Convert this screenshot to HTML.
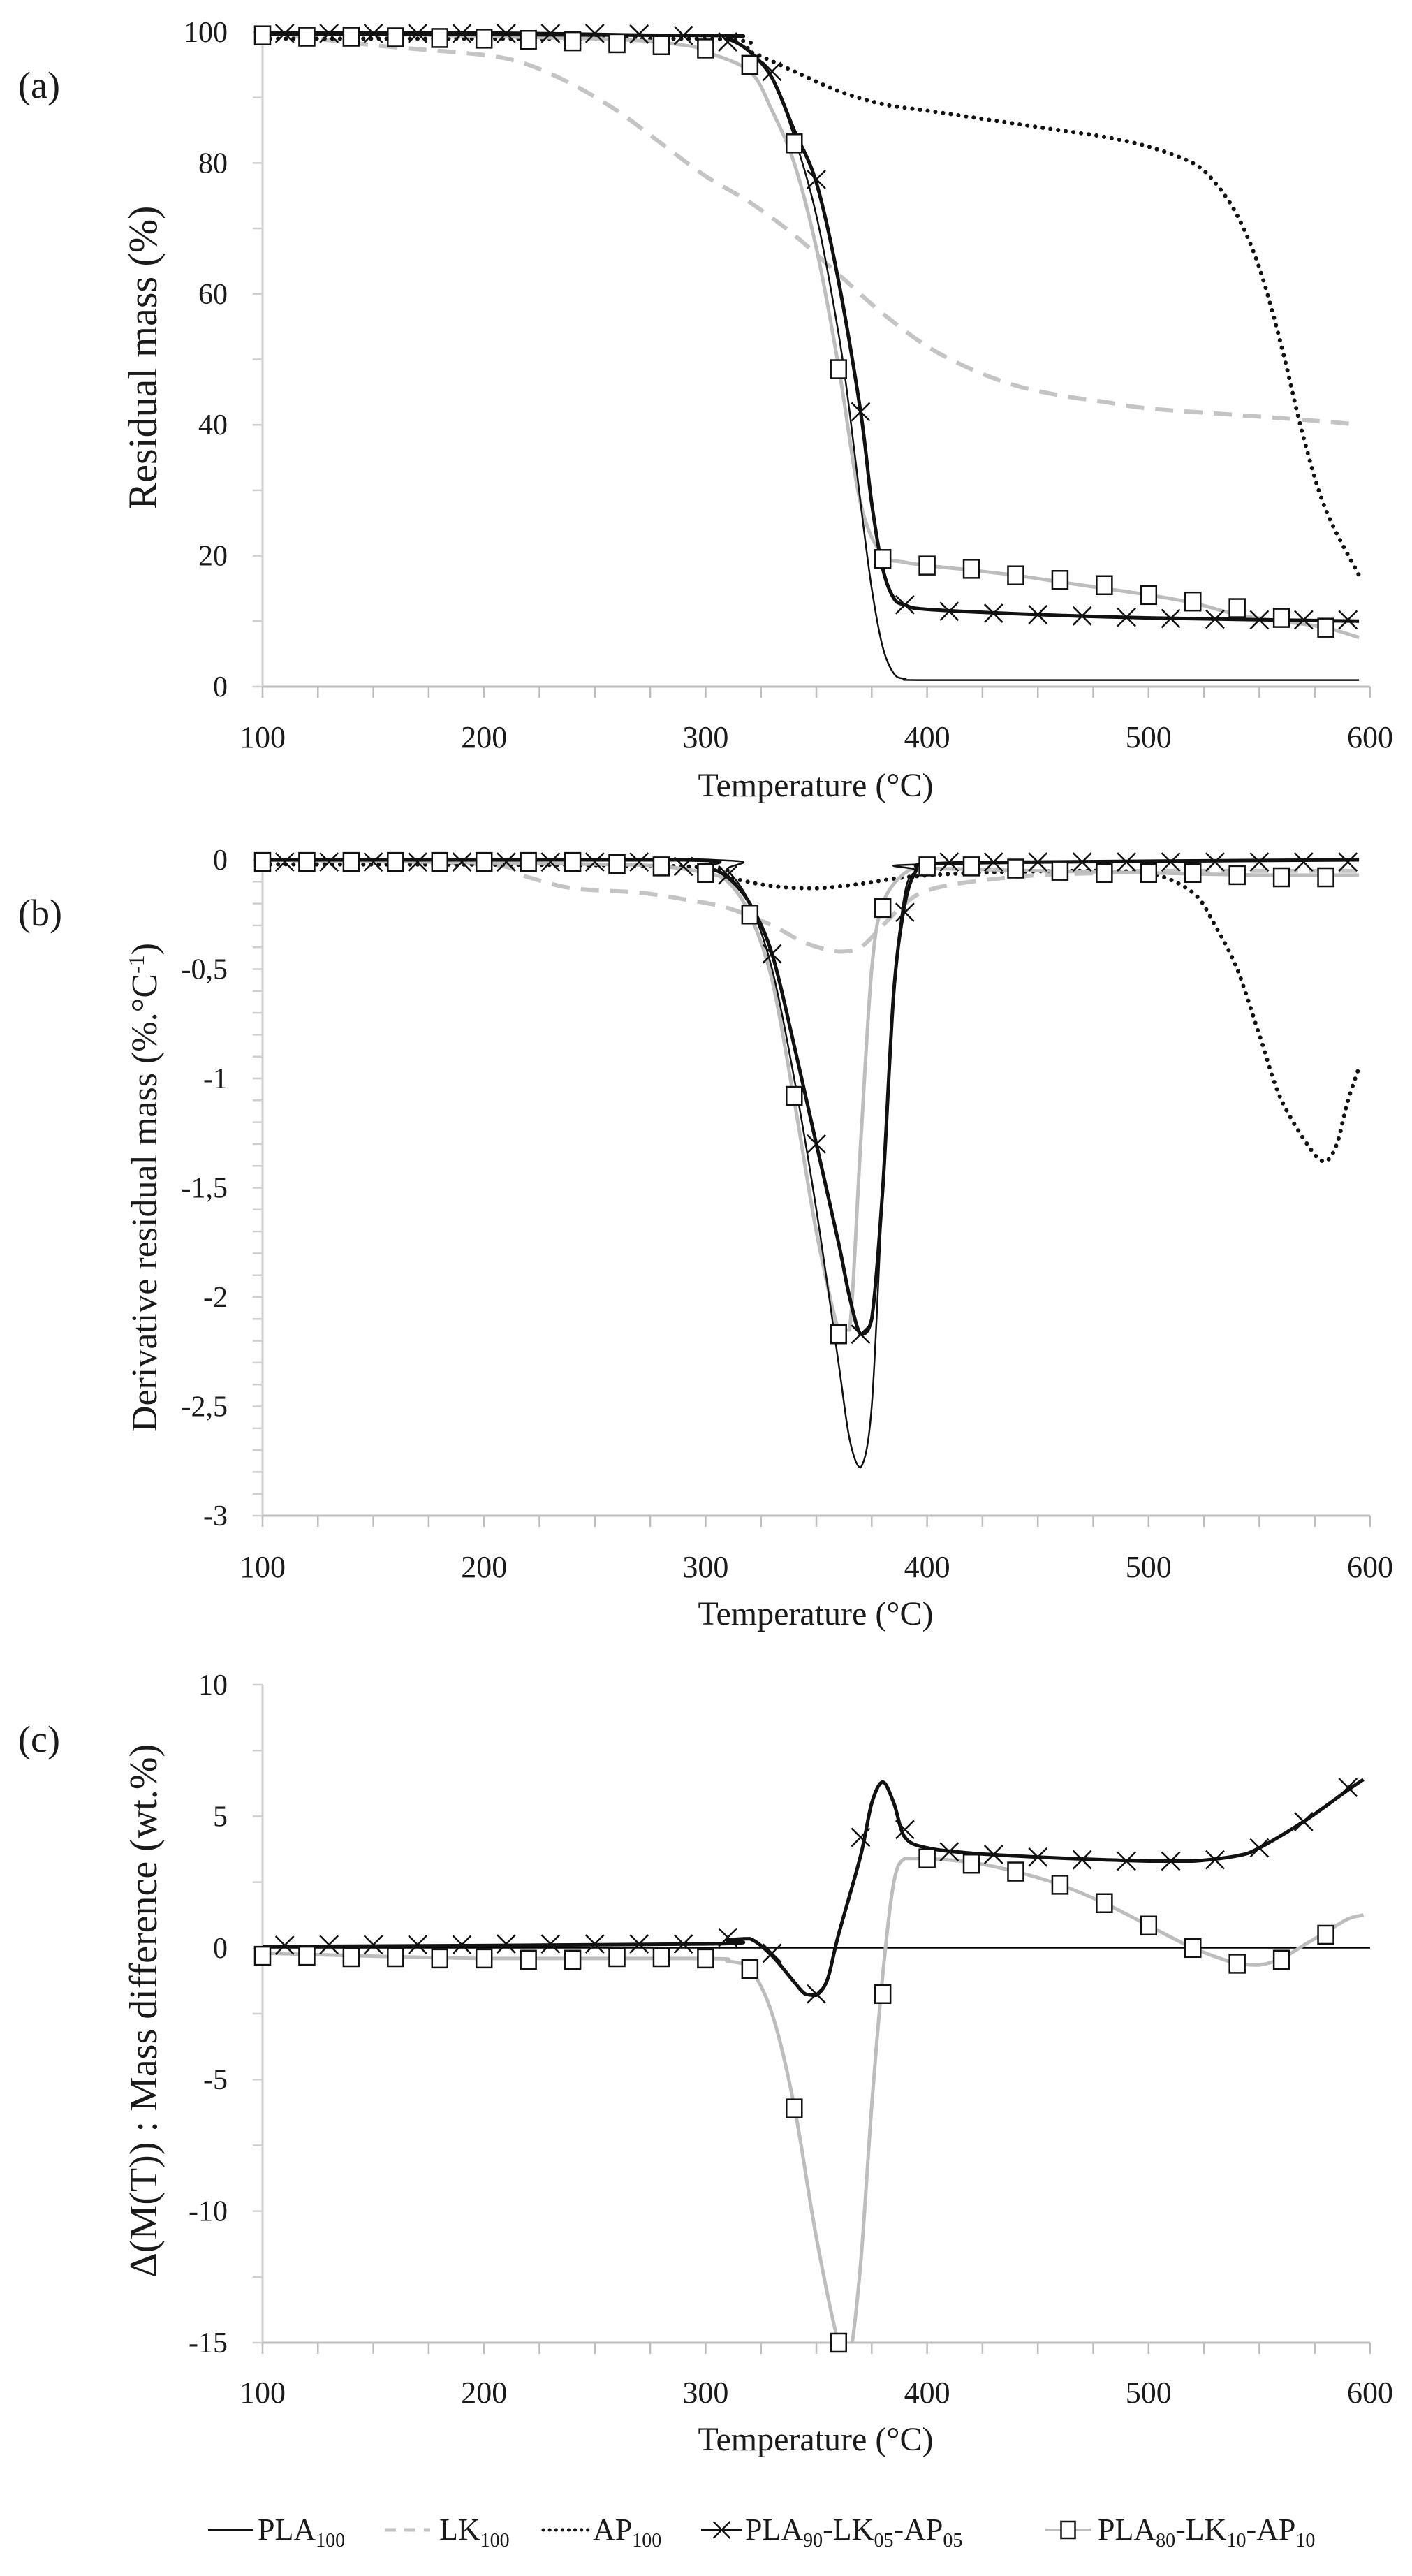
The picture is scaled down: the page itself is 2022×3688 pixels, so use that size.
<!DOCTYPE html>
<html><head><meta charset="utf-8">
<style>
html,body{margin:0;padding:0;background:#fff;}
svg{display:block;}
text{font-family:"Liberation Serif",serif;fill:#1a1a1a;}
</style></head>
<body>
<svg id="fig" width="2022" height="3688" viewBox="0 0 2022 3688" xmlns="http://www.w3.org/2000/svg"></svg>
<script>
// ---------- Panel (a): residual mass ----------
const aT_PLA100 = [100,200,300,310,320,330,340,350,360,365,370,375,380,385,390,400,500,595];
const aV_PLA100 = [100,100,99.5,99,97,93,84,72,54,42,28,15,6,2,1.2,1,1,1];
const aT_LK100 = [100,150,200,220,240,260,280,300,320,340,360,380,400,420,440,460,480,500,540,580,595];
const aV_LK100 = [100,98,96.5,95,92,88,83,78,74,69,63,57,52,48.5,46,44.5,43.5,42.5,41.5,40.5,40];
const aT_AP100 = [100,300,320,340,360,380,400,420,440,460,480,500,520,530,540,550,560,570,580,595];
const aV_AP100 = [99,99,97,94,91,89,88,87,86,85,84,82.5,80,77,72,64,52,38,27,17];
const aT_PLA90 = [100,300,310,320,330,340,350,360,370,375,380,385,390,400,450,500,595];
const aV_PLA90 = [99.7,99.5,99,97,93,85,77,62,42,28,18,13.5,12.5,11.8,11,10.5,10];
const aT_PLA80 = [100,250,290,300,320,330,340,350,360,370,380,390,400,420,440,460,480,500,520,540,560,580,595];
const aV_PLA80 = [100,99,98,97,94,88,80,67,49,28,20,19,18.5,17.8,17,16,15,14,12.8,11,10,9,7.5];
const aMX_T = [110,130,150,170,190,210,230,250,270,290,310,330,350,370,390,410,430,450,470,490,510,530,550,570,590];
const aMX_V = [99.8,99.8,99.8,99.8,99.8,99.8,99.8,99.8,99.7,99.5,98.5,94,77.5,42,12.5,11.5,11.2,11,10.8,10.6,10.4,10.3,10.2,10.2,10.2];
const aMS_T = [100,120,140,160,180,200,220,240,260,280,300,320,340,360,380,400,420,440,460,480,500,520,540,560,580];
const aMS_V = [99.5,99.3,99.3,99.2,99.1,99,98.8,98.6,98.3,98,97.5,95,83,48.5,19.5,18.5,18,17,16.3,15.5,14,13,12,10.5,9];
const aYTicks = [0,20,40,60,80,100];
const aYLabels = ["0","20","40","60","80","100"];

// ---------- Panel (b): derivative ----------
const bT_PLA100 = [100,300,310,320,330,340,350,360,365,370,375,380,385,390,395,400,595];
const bV_PLA100 = [0,0,-0.05,-0.2,-0.5,-1.0,-1.6,-2.3,-2.65,-2.78,-2.5,-1.5,-0.6,-0.15,-0.05,-0.02,0];
const bT_LK100 = [100,200,220,240,270,290,310,330,345,360,370,380,390,400,420,450,480,500,595];
const bV_LK100 = [0,-0.02,-0.08,-0.13,-0.15,-0.18,-0.22,-0.3,-0.38,-0.42,-0.4,-0.3,-0.2,-0.14,-0.1,-0.07,-0.06,-0.05,-0.05];
const bT_AP100 = [100,290,310,330,350,370,390,420,470,500,520,530,540,550,560,575,580,585,590,595];
const bV_AP100 = [-0.02,-0.03,-0.08,-0.12,-0.13,-0.11,-0.08,-0.06,-0.05,-0.06,-0.15,-0.3,-0.5,-0.8,-1.1,-1.35,-1.38,-1.3,-1.1,-0.95];
const bT_PLA90 = [100,290,300,310,320,330,340,350,360,365,370,375,380,385,390,395,400,450,595];
const bV_PLA90 = [0,0,-0.03,-0.08,-0.2,-0.43,-0.85,-1.3,-1.75,-2.0,-2.17,-2.1,-1.5,-0.6,-0.2,-0.05,-0.02,-0.01,0];
const bT_PLA80 = [100,250,280,300,310,320,330,340,350,360,365,370,375,380,390,400,450,500,550,595];
const bV_PLA80 = [0,-0.02,-0.03,-0.06,-0.1,-0.25,-0.55,-1.1,-1.7,-2.15,-2.15,-1.3,-0.5,-0.2,-0.06,-0.04,-0.05,-0.06,-0.07,-0.07];
const bMX_T = aMX_T;
const bMX_V = [-0.01,-0.01,-0.01,-0.01,-0.01,-0.01,-0.01,-0.01,-0.01,-0.03,-0.07,-0.43,-1.3,-2.17,-0.24,-0.01,-0.01,-0.01,-0.01,-0.01,-0.01,-0.01,-0.01,-0.01,-0.01];
const bMS_T = aMS_T;
const bMS_V = [-0.01,-0.01,-0.01,-0.01,-0.01,-0.01,-0.01,-0.01,-0.02,-0.03,-0.06,-0.25,-1.08,-2.17,-0.22,-0.03,-0.03,-0.04,-0.05,-0.06,-0.06,-0.06,-0.07,-0.08,-0.08];
const bYTicks = [0,-0.5,-1,-1.5,-2,-2.5,-3];
const bYLabels = ["0","-0,5","-1","-1,5","-2","-2,5","-3"];

// ---------- Panel (c): mass difference ----------
const cT_PLA90 = [100,300,310,320,330,340,345,350,355,360,370,375,380,385,390,400,420,450,480,500,520,540,550,570,590,597];
const cV_PLA90 = [0.05,0.15,0.3,0.35,-0.3,-1.3,-1.75,-1.8,-1.2,0.5,3.5,5.5,6.3,5.5,4.2,3.8,3.6,3.45,3.35,3.3,3.3,3.5,3.8,4.8,6.0,6.4];
const cT_PLA80 = [100,200,300,310,320,330,340,350,360,365,370,375,380,385,390,400,420,440,460,480,500,520,540,550,560,570,580,590,597];
const cV_PLA80 = [-0.2,-0.4,-0.4,-0.5,-0.8,-2.5,-6,-11,-15,-15.5,-12,-6,-1,2.5,3.4,3.4,3.25,2.9,2.4,1.7,0.85,0,-0.6,-0.65,-0.4,0.1,0.6,1.1,1.25];
const cMX_T = aMX_T;
const cMX_V = [0.1,0.12,0.12,0.12,0.12,0.15,0.15,0.15,0.15,0.15,0.4,-0.2,-1.75,4.2,4.5,3.65,3.55,3.45,3.35,3.3,3.3,3.35,3.8,4.8,6.1];
const cMS_T = aMS_T;
const cMS_V = [-0.3,-0.3,-0.35,-0.35,-0.4,-0.4,-0.45,-0.45,-0.35,-0.35,-0.4,-0.8,-6.1,-15,-1.75,3.4,3.2,2.9,2.4,1.7,0.85,0,-0.6,-0.45,0.5];
const cYTicks = [10,5,0,-5,-10,-15];
const cYLabels = ["10","5","0","-5","-10","-15"];

const xTicks = [100,200,300,400,500,600];
const xLabels = ["100","200","300","400","500","600"];

const NS = "http://www.w3.org/2000/svg";
const svg = document.getElementById('fig');
function mk(tag, attrs, parent){
  const e = document.createElementNS(NS, tag);
  for (const k in attrs) e.setAttribute(k, attrs[k]);
  (parent||svg).appendChild(e);
  return e;
}
function clampY(y, a, b){ const lo=Math.min(a,b), hi=Math.max(a,b); return Math.max(lo, Math.min(hi, y)); }
function smoothPath(pts){
  let d = "M"+pts[0][0].toFixed(1)+","+pts[0][1].toFixed(1);
  for (let i=0;i<pts.length-1;i++){
    const p0=pts[Math.max(0,i-1)], p1=pts[i], p2=pts[i+1], p3=pts[Math.min(pts.length-1,i+2)];
    const t=0.16;
    const c1x=p1[0]+(p2[0]-p0[0])*t, c1y=clampY(p1[1]+(p2[1]-p0[1])*t, p1[1], p2[1]);
    const c2x=p2[0]-(p3[0]-p1[0])*t, c2y=clampY(p2[1]-(p3[1]-p1[1])*t, p1[1], p2[1]);
    d+=" C"+c1x.toFixed(1)+","+c1y.toFixed(1)+" "+c2x.toFixed(1)+","+c2y.toFixed(1)+" "+p2[0].toFixed(1)+","+p2[1].toFixed(1);
  }
  return d;
}

const X0=376, X1=1962;
function xScale(t){ return X0+(t-100)/500*(X1-X0); }

function drawPanel(p){
  const g = mk('g',{});
  
  
  const yScale = v => p.yTop + (p.vTop - v)/(p.vTop - p.vBot)*(p.yBot - p.yTop);
  const clipId = p.name+'-clip';
  const cp = mk('clipPath',{id:clipId},g);
  mk('rect',{x:X0-30,y:p.yTop-30,width:X1-X0+60,height:p.yBot-p.yTop+30},cp);
  const ya = mk('line',{x1:X0,y1:p.yTop,x2:X0,y2:p.yBot,stroke:'#cfcfcf','stroke-width':3},g);
  
  
  for (let v=p.vBot; v<=p.vTop+1e-9; v+=p.minor){
    mk('line',{x1:X0-14,y1:yScale(v),x2:X0,y2:yScale(v),stroke:'#cfcfcf','stroke-width':2.5},g);
  }
  p.yTicks.forEach((v,i)=>{
    const t = mk('text',{x:326,y:yScale(v)+14,'text-anchor':'end','font-size':42},g);
    t.textContent = p.yLabels[i];
    
    
  });
  const xa = mk('line',{x1:X0,y1:p.yBot,x2:X1,y2:p.yBot,stroke:'#bdbdbd','stroke-width':3},g);
  
  
  for (let t=100;t<=600;t+=25){
    mk('line',{x1:xScale(t),y1:p.yBot,x2:xScale(t),y2:p.yBot+16,stroke:'#bdbdbd','stroke-width':2.5},g);
  }
  xTicks.forEach((t,i)=>{
    const e = mk('text',{x:xScale(t),y:p.xLabelY,'text-anchor':'middle','font-size':44},g);
    e.textContent = xLabels[i];
    
    
  });
  const xt = mk('text',{x:1168,y:p.xTitleY,'text-anchor':'middle','font-size':48},g);
  xt.textContent = 'Temperature (°C)';
  
  
  const yt = mk('text',{x:0,y:0,'text-anchor':'middle','font-size':p.yTitleSize,transform:'translate(224,'+p.yTitleCY+') rotate(-90)'},g);
  yt.innerHTML = p.yTitle;
  
  
  const pl = mk('text',{x:26,y:p.panelY,'font-size':54},g);
  pl.textContent = p.panel;
  
  
  if (p.zeroLine){
    const z = mk('line',{x1:X0,y1:yScale(0),x2:X1,y2:yScale(0),stroke:'#000','stroke-width':2},g);
    
    
  }
  const lg = mk('g',{'clip-path':'url(#'+clipId+')'},g);
  p.series.forEach(s=>{
    const pts = s.t.map((t,i)=>[xScale(t), yScale(s.v[i])]);
    const path = mk('path',{d:smoothPath(pts),fill:'none',stroke:s.color,'stroke-width':s.w,'stroke-dasharray':s.dash||'none','stroke-linecap':s.cap||'butt','stroke-linejoin':'round'},lg);
    
    
  });
  p.mx.t.forEach((t,i)=>{
    const cx=xScale(t), cy=yScale(p.mx.v[i]), r=13;
    const m = mk('path',{d:`M${cx-r},${cy-r}L${cx+r},${cy+r}M${cx-r},${cy+r}L${cx+r},${cy-r}`,stroke:'#111','stroke-width':2.5,fill:'none'},g);
    
    
  });
  p.ms.t.forEach((t,i)=>{
    const cx=xScale(t), cy=yScale(p.ms.v[i]);
    const m = mk('rect',{x:cx-11,y:cy-13,width:22,height:26,fill:'#fff',stroke:'#111','stroke-width':2.5},g);
    
    
  });
}

drawPanel({name:'chart-a-residual-mass',panel:'(a)',panelY:140,yTop:46,yBot:983,vTop:100,vBot:0,minor:10,
  yTicks:aYTicks,yLabels:aYLabels,xLabelY:1070,xTitleY:1140,yTitleCY:512,yTitleSize:58,yTitle:'Residual mass (%)',
  series:[
    {name:'line-lk100',t:aT_LK100,v:aV_LK100,color:'#c4c4c4',w:6,dash:'26 16'},
    {name:'line-ap100',t:aT_AP100,v:aV_AP100,color:'#111',w:6,dash:'0.1 11',cap:'round'},
    {name:'line-pla80',t:aT_PLA80,v:aV_PLA80,color:'#bdbdbd',w:5},
    {name:'line-pla100',t:aT_PLA100,v:aV_PLA100,color:'#111',w:2.5},
    {name:'line-pla90',t:aT_PLA90,v:aV_PLA90,color:'#111',w:5}],
  mx:{t:aMX_T,v:aMX_V},ms:{t:aMS_T,v:aMS_V}});

drawPanel({name:'chart-b-derivative',panel:'(b)',panelY:1325,yTop:1231,yBot:2170,vTop:0,vBot:-3,minor:0.1,
  yTicks:bYTicks,yLabels:bYLabels,xLabelY:2258,xTitleY:2326,yTitleCY:1700,yTitleSize:52,
  yTitle:'Derivative residual mass (%.°C<tspan dy="-18" font-size="32">-1</tspan><tspan dy="18">)</tspan>',
  series:[
    {name:'line-lk100',t:bT_LK100,v:bV_LK100,color:'#c4c4c4',w:6,dash:'26 16'},
    {name:'line-ap100',t:bT_AP100,v:bV_AP100,color:'#111',w:6,dash:'0.1 11',cap:'round'},
    {name:'line-pla80',t:bT_PLA80,v:bV_PLA80,color:'#bdbdbd',w:5},
    {name:'line-pla100',t:bT_PLA100,v:bV_PLA100,color:'#111',w:2.5},
    {name:'line-pla90',t:bT_PLA90,v:bV_PLA90,color:'#111',w:5}],
  mx:{t:bMX_T,v:bMX_V},ms:{t:bMS_T,v:bMS_V}});

drawPanel({name:'chart-c-mass-difference',panel:'(c)',panelY:2508,yTop:2412,yBot:3354,vTop:10,vBot:-15,minor:2.5,zeroLine:true,
  yTicks:cYTicks,yLabels:cYLabels,xLabelY:3440,xTitleY:3508,yTitleCY:2879,yTitleSize:56,yTitle:'Δ(M(T)) : Mass difference (wt.%)',
  series:[
    {name:'line-pla80',t:cT_PLA80,v:cV_PLA80,color:'#bdbdbd',w:5},
    {name:'line-pla90',t:cT_PLA90,v:cV_PLA90,color:'#111',w:5}],
  mx:{t:cMX_T,v:cMX_V},ms:{t:cMS_T,v:cMS_V}});

const lg = mk('g',{});


const LY = 3636;
const legendItems = [
  {x1:298,x2:363,tx:369,color:'#111',w:2.5,dash:'none',label:'PLA<tspan dy="10" font-size="28">100</tspan>'},
  {x1:551,x2:616,tx:629,color:'#c4c4c4',w:5,dash:'16 12',label:'LK<tspan dy="10" font-size="28">100</tspan>'},
  {x1:778,x2:842,tx:849,color:'#111',w:5,dash:'0.1 9',cap:'round',label:'AP<tspan dy="10" font-size="28">100</tspan>'},
  {x1:1004,x2:1063,tx:1067,color:'#111',w:4,dash:'none',mark:'x',label:'PLA<tspan dy="10" font-size="28">90</tspan><tspan dy="-10">-LK</tspan><tspan dy="10" font-size="28">05</tspan><tspan dy="-10">-AP</tspan><tspan dy="10" font-size="28">05</tspan>'},
  {x1:1497,x2:1562,tx:1572,color:'#bdbdbd',w:4,dash:'none',mark:'s',label:'PLA<tspan dy="10" font-size="28">80</tspan><tspan dy="-10">-LK</tspan><tspan dy="10" font-size="28">10</tspan><tspan dy="-10">-AP</tspan><tspan dy="10" font-size="28">10</tspan>'}
];
legendItems.forEach(it=>{
  const e = mk('g',{},lg);
  
  
  mk('line',{x1:it.x1,y1:LY-14,x2:it.x2,y2:LY-14,stroke:it.color,'stroke-width':it.w,'stroke-dasharray':it.dash,'stroke-linecap':it.cap||'butt'},e);
  const cx=(it.x1+it.x2)/2, cy=LY-14;
  if (it.mark==='x') mk('path',{d:`M${cx-12},${cy-12}L${cx+12},${cy+12}M${cx-12},${cy+12}L${cx+12},${cy-12}`,stroke:'#111','stroke-width':2.5},e);
  if (it.mark==='s') mk('rect',{x:cx-10,y:cy-12,width:20,height:24,fill:'#fff',stroke:'#111','stroke-width':2.5},e);
  const t = mk('text',{x:it.tx,y:LY,'font-size':44},e);
  t.innerHTML = it.label;
});
</script>
</body></html>
